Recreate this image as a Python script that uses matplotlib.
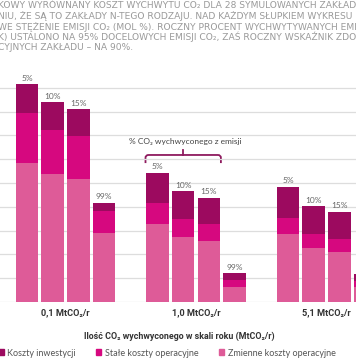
import numpy as np
import matplotlib.pyplot as plt
from matplotlib.patches import Patch, PathPatch
from matplotlib.path import Path

# capture rates shown above each bar, plant sizes for each group
capture_labels = ['5%', '10%', '15%', '99%']
group_labels = ['0,1 MtCO₂/r', '1,0 MtCO₂/r', '5,1 MtCO₂/r']

# stacked components, rows = groups, cols = capture rate
variable_opex = np.array([[58.3, 53.7, 51.7, 29.0],
                          [32.6, 27.4, 25.5, 6.4],
                          [28.4, 22.6, 21.0, 6.4]])
fixed_opex = np.array([[21.0, 18.6, 18.1, 9.4],
                       [9.1, 7.3, 7.1, 2.8],
                       [7.1, 6.0, 5.5, 2.6]])
capex = np.array([[12.3, 11.6, 11.2, 3.4],
                  [12.6, 12.0, 11.3, 2.8],
                  [12.9, 11.8, 11.5, 2.8]])

legend_labels = ['Koszty inwestycji', 'Stałe koszty operacyjne', 'Zmienne koszty operacyjne']
colors = ['#9c0a5f', '#d6087f', '#de5b98']

title_lines = [
    'KOWY WYRÓWNANY KOSZT WYCHWYTU CO₂ DLA 28 SYMULOWANYCH ZAKŁAD',
    'NIU, ŻE SĄ TO ZAKŁADY N-TEGO RODZAJU. NAD KAŻDYM SŁUPKIEM WYKRESU',
    'WE STĘŻENIE EMISJI CO₂ (MOL %). ROCZNY PROCENT WYCHWYTYWANYCH EMI',
    'K) USTALONO NA 95% DOCELOWYCH EMISJI CO₂, ZAŚ ROCZNY WSKAŹNIK ZDO',
    'CYJNYCH ZAKŁADU – NA 90%.',
]

plt.rcParams['font.family'] = ['Lato', 'DejaVu Sans']
bold_font = ['Roboto', 'DejaVu Sans']

W, H = 356, 364
fig = plt.figure(figsize=(W / 100, H / 100), dpi=100)
# x axis in pixel-like units so the crop lines up
ax = fig.add_axes([0, 62 / H, 1, 226 / H])
ax.set_xlim(0, W)
ax.set_ylim(0, 95)

first_center = 27
group_step = 130.5
bar_step = 25.7
bar_w = 22.5

for g in range(len(group_labels)):
    xs = first_center + g * group_step + np.arange(len(capture_labels)) * bar_step
    ax.bar(xs, variable_opex[g], bar_w, color=colors[2], zorder=2)
    ax.bar(xs, fixed_opex[g], bar_w, bottom=variable_opex[g], color=colors[1], zorder=2)
    tops = variable_opex[g] + fixed_opex[g]
    ax.bar(xs, capex[g], bar_w, bottom=tops, color=colors[0], zorder=2)
    tops = tops + capex[g]
    for x, t, lab in zip(xs, tops, capture_labels):
        if x < W - 5:
            ax.text(x, t + 1.0, lab, ha='center', va='bottom', fontsize=6, color='#666666')
    ax.text(xs.mean(), -4.6, group_labels[g], ha='center', va='center',
            fontsize=6.6, fontweight='bold', family=bold_font, color='#333333')

ax.set_yticks(np.arange(0, 91, 10))
ax.grid(axis='y', color='#dddddd', linewidth=0.9, zorder=0)
ax.tick_params(left=False, bottom=False, labelleft=False, labelbottom=False)
ax.set_xticks([])
for s in ax.spines.values():
    s.set_visible(False)

# rounded bracket over the second group
gx = first_center + group_step
bx0, bx1 = gx - 12, gx + 2 * bar_step + 12
bmid = (bx0 + bx1) / 2
yb, yh, r = 58.4, 61.8, 3
verts = [(bx0, yb), (bx0, yh - 1.2), (bx0, yh), (bx0 + r, yh),
         (bx1 - r, yh), (bx1, yh), (bx1, yh - 1.2), (bx1, yb)]
codes = [Path.MOVETO, Path.LINETO, Path.CURVE3, Path.CURVE3,
         Path.LINETO, Path.CURVE3, Path.CURVE3, Path.LINETO]
ax.add_patch(PathPatch(Path(verts, codes), fill=False, edgecolor='#8e1a5e', lw=1.3))
ax.plot([bmid, bmid], [yh, 63.8], color='#8e1a5e', lw=1.3)
ax.text(bmid + 2, 67.4, '% CO₂ wychwyconego z emisji', ha='center', va='center',
        fontsize=6, color='#444444')

# title lines (cropped in the original)
for i, line in enumerate(title_lines):
    fig.text(-0.005, 1 - (6 + i * 10.3) / H, line, ha='left', va='center',
             fontsize=6.6, color='#9a9a9a', family='DejaVu Sans')

fig.text(179 / W, 1 - 336 / H, 'Ilość CO₂ wychwyconego w skali roku (MtCO₂/r)',
         ha='center', va='center', fontsize=6.4, fontweight='bold', family=bold_font,
         color='#333333')

handles = [Patch(color=c) for c in colors]
fig.legend(handles, legend_labels, loc='center left', bbox_to_anchor=(-0.005, 1 - 353 / H),
           ncol=3, frameon=False, fontsize=6.5, handlelength=0.6, handleheight=0.6,
           handletextpad=0.4, columnspacing=2.25, labelcolor='#555555',
           borderpad=0, borderaxespad=0)

fig.savefig('out.png', dpi=100)
